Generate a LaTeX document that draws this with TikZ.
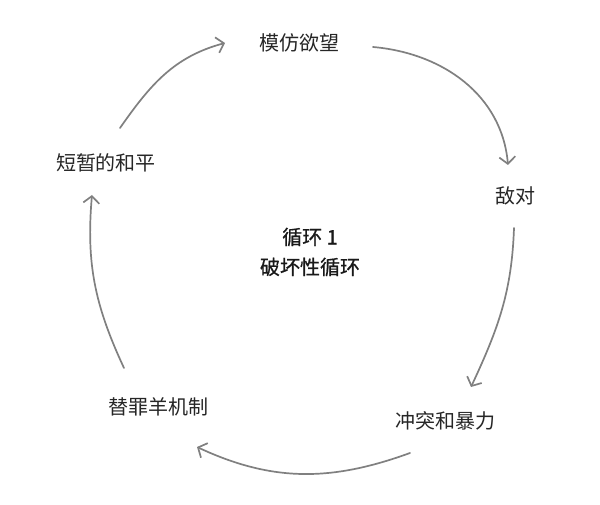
\documentclass[tikz,border=0pt]{standalone}
\usepackage{fontspec}
\newfontfamily\cjk{Noto Sans CJK SC}
\newfontfamily\cjkbold[FakeBold=0.6]{Noto Sans CJK SC}
\usetikzlibrary{arrows.meta}
\begin{document}
\begin{tikzpicture}[x=1pt,y=1pt,
    lbl/.style={inner sep=0pt,text=black!85,font=\cjk\fontsize{20}{24}\selectfont},
    cyc/.style={draw=black!50,line width=1.7pt,line cap=round,
        -{Straight Barb[length=7pt,width=16pt,line width=1.7pt]}}]
    \useasboundingbox[fill=white] (0,0) rectangle (600,505);

    \node[lbl] (desire)    at (299,462) {模仿欲望};
    \node[lbl] (rivalry)   at (515,309) {敌对};
    \node[lbl] (violence)  at (445,84)  {冲突和暴力};
    \node[lbl] (scapegoat) at (158,98)  {替罪羊机制};
    \node[lbl] (peace)     at (106,342) {短暂的和平};
    \node[lbl,align=center,text=black!90,font=\cjkbold\fontsize{20}{24}\selectfont]
        (cycle) at (310,253) {循环 1\\[6pt]破坏性循环};

    \draw[cyc] ([shift={(74,-4)}]desire.center) to[out=-5,in=95] ([shift={(-7,31)}]rivalry.center);
    \draw[cyc] ([shift={(-1,-32)}]rivalry.center) to[out=-92,in=65] ([shift={(26,34)}]violence.center);
    \draw[cyc] ([shift={(-35,-32)}]violence.center) to[out=200,in=-25] ([shift={(39,-40)}]scapegoat.center);
    \draw[cyc] ([shift={(-34,39)}]scapegoat.center) to[out=115,in=-95] ([shift={(-14,-32)}]peace.center);
    \draw[cyc] ([shift={(14,35)}]peace.center) to[out=55,in=195] ([shift={(-74,0)}]desire.center);

\end{tikzpicture}
\end{document}
